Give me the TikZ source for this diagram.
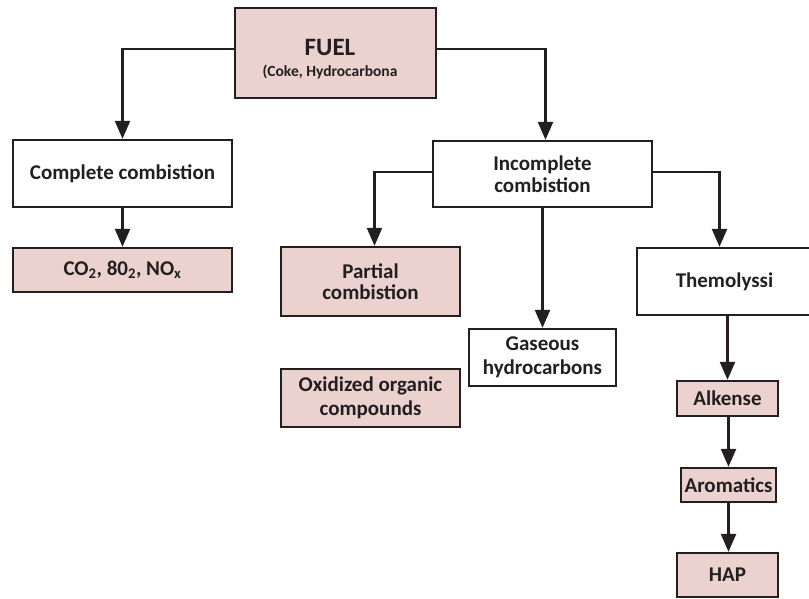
\documentclass[tikz,border=0pt]{standalone}
\usepackage{fontspec}
\setmainfont{Carlito}
\usetikzlibrary{arrows.meta}
\definecolor{pinkfill}{RGB}{235,210,206}
\definecolor{ink}{RGB}{35,31,32}
\begin{document}
\begin{tikzpicture}[x=1pt,y=-1pt,
  box/.style={draw=ink, line width=2.3pt, inner sep=0pt, align=center, text=ink,
    font={\bfseries\fontsize{21}{21.5}\selectfont}},
  pinkbox/.style={box, fill=pinkfill},
  whitebox/.style={box, fill=white},
  arr/.style={draw=ink, line width=2.3pt, -{Triangle[length=18pt,width=15pt]}},
  ]
\useasboundingbox (0,0) rectangle (809,598);

% FUEL
\node[pinkbox, minimum width=201pt, minimum height=90pt] (fuel) at (335.5,53) {};
\node[anchor=base, text=ink, inner sep=0pt, font={\bfseries\fontsize{25}{25}\selectfont}] (fueltitle) at (330,55.7) {FUEL};
\node[anchor=base, text=ink, inner sep=0pt, font={\bfseries\fontsize{15.5}{16}\selectfont}] (fuelsub) at (330,76) {(Coke, Hydrocarbona};

% left branch
\node[whitebox, minimum width=219pt, minimum height=67pt] (comp) at (122.5,173.5) {Complete combistion};
\node[pinkbox, minimum width=219pt, minimum height=44pt] (co2) at (122.5,270) {CO\textsubscript{2}, 80\textsubscript{2}, NO\textsubscript{x}};

% right branch
\node[whitebox, minimum width=219pt, minimum height=66pt, font={\bfseries\fontsize{21}{21.5}\selectfont}] (incomp) at (542.5,174) {Incomplete\\combistion};
\node[pinkbox, minimum width=179pt, minimum height=69pt, font={\bfseries\fontsize{21}{20.7}\selectfont}] (partial) at (370.5,281.5) {Partial\\combistion};
\node[pinkbox, minimum width=179pt, minimum height=58pt, font={\bfseries\fontsize{21}{24}\selectfont}] (oxid) at (370.5,398) {Oxidized organic\\compounds};
\node[whitebox, minimum width=147pt, minimum height=57pt, font={\bfseries\fontsize{21}{24}\selectfont}] (gas) at (542.5,357.5) {Gaseous\\hydrocarbons};
\node[whitebox, minimum width=175pt, minimum height=67pt] (themo) at (724.5,281.5) {Themolyssi};
\node[pinkbox, minimum width=101pt, minimum height=35pt] (alk) at (727.5,398.5) {Alkense};
\node[pinkbox, minimum width=95pt, minimum height=34pt] (arom) at (728.5,485) {Aromatics};
\node[pinkbox, minimum width=101pt, minimum height=44pt] (hap) at (727.5,575) {HAP};

% connectors
\draw[arr] ([yshift=4pt]fuel.west) -| (comp.north);
\draw[arr] ([yshift=4pt]fuel.east) -| ([xshift=3pt]incomp.north);
\draw[arr] (comp.south) -- (co2.north);
\draw[arr] ([yshift=2pt]incomp.west) -| ([xshift=4pt]partial.north);
\draw[arr] (incomp.south) -- (gas.north);
\draw[arr] ([yshift=2pt]incomp.east) -| ([xshift=-5pt]themo.north);
\draw[arr] (themo.south -| alk.north) -- (alk.north);
\draw[arr] (alk.south -| arom.north) -- (arom.north);
\draw[arr] (arom.south) -- (arom.south |- hap.north);
\end{tikzpicture}
\end{document}
